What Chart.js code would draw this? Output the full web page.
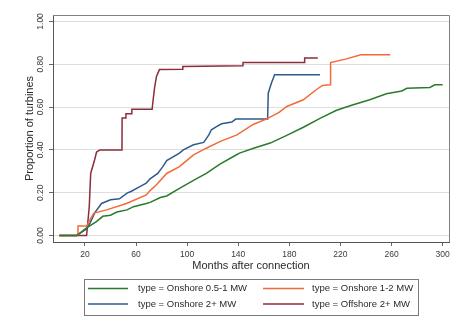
<!DOCTYPE html>
<html>
<head>
<meta charset="utf-8">
<script src="https://cdn.jsdelivr.net/npm/chart.js@4/dist/chart.umd.min.js"></script>
<style>
html,body{margin:0;padding:0;background:#fff;}
canvas{display:block;}
</style>
</head>
<body>
<canvas id="c" width="474" height="322"></canvas>
<script>
// ---- data ----
const seriesLabels = ["type = Onshore 0.5-1 MW", "type = Onshore 1-2 MW", "type = Onshore 2+ MW", "type = Offshore 2+ MW"];
const seriesColors = ["#2b7a2b", "#f4693a", "#2f5b8c", "#8c2d3c"];

const monthsOn051 = [0, 13.5, 21, 29, 34, 40, 45, 53, 58, 68, 71, 79, 84, 94, 105, 115, 126, 138, 141, 152, 165, 178, 191, 204, 217, 230, 243, 256, 268, 272, 290, 294, 300];
const propOn051   = [0, 0, 0.035, 0.065, 0.09, 0.095, 0.11, 0.12, 0.135, 0.15, 0.155, 0.178, 0.185, 0.22, 0.258, 0.29, 0.335, 0.375, 0.385, 0.408, 0.432, 0.468, 0.506, 0.547, 0.585, 0.611, 0.634, 0.662, 0.675, 0.688, 0.692, 0.704, 0.704];

const monthsOn12 = [0, 14.5, 14.6, 21.5, 24, 27, 37, 53, 68, 71, 76, 84, 94, 105, 115, 126, 139, 152, 162, 172, 178, 191, 201, 206, 212, 212.3, 224, 236, 259];
const propOn12   = [0, 0, 0.045, 0.045, 0.075, 0.105, 0.12, 0.151, 0.19, 0.21, 0.237, 0.29, 0.322, 0.377, 0.408, 0.44, 0.47, 0.52, 0.544, 0.575, 0.603, 0.634, 0.681, 0.701, 0.704, 0.808, 0.824, 0.844, 0.844];

const monthsOn2 = [0, 13.5, 21, 24, 28, 33, 40, 47, 53, 56, 63, 68, 71, 77, 81, 84, 94, 97, 105, 113, 117, 119, 123, 127, 135, 138, 163, 163.5, 166, 168.5, 204];
const propOn2   = [0, 0, 0.03, 0.058, 0.11, 0.15, 0.167, 0.172, 0.198, 0.206, 0.229, 0.245, 0.265, 0.29, 0.322, 0.35, 0.385, 0.40, 0.424, 0.435, 0.47, 0.494, 0.509, 0.522, 0.53, 0.544, 0.544, 0.665, 0.712, 0.751, 0.751];

const monthsOff2 = [0, 21.3, 23.4, 24.5, 27.6, 29.1, 31.7, 49, 49.1, 52, 52.1, 56.6, 56.7, 72.6, 73.5, 74.5, 76, 78.3, 96.5, 96.6, 143.7, 143.8, 191.9, 192, 202.3];
const propOff2   = [0, 0, 0.136, 0.29, 0.354, 0.39, 0.40, 0.40, 0.549, 0.549, 0.569, 0.569, 0.59, 0.59, 0.64, 0.69, 0.743, 0.775, 0.777, 0.79, 0.793, 0.808, 0.808, 0.829, 0.829];

const xTickValues = [20, 60, 100, 140, 180, 220, 260, 300];
const yTickValues = [0, 0.2, 0.4, 0.6, 0.8, 1.0];
const xTitle = "Months after connection";
const yTitle = "Proportion of turbines";

// ---- build datasets ----
function pts(xs, ys){ return xs.map((x,i)=>({x:x, y:ys[i]})); }
const allX = [monthsOn051, monthsOn12, monthsOn2, monthsOff2];
const allY = [propOn051, propOn12, propOn2, propOff2];
const datasets = seriesLabels.map((lab,i)=>({
  label: lab,
  data: pts(allX[i], allY[i]),
  borderColor: seriesColors[i],
  backgroundColor: seriesColors[i],
  borderWidth: 1.5,
  pointRadius: 0,
  tension: 0,
  fill: false
}));

const FONT = "'Liberation Sans', Arial, sans-serif";

// rotated y tick labels + frame + legend
const decor = {
  id: 'decor',
  beforeDraw(chart){
    const ctx = chart.ctx;
    ctx.save();
    ctx.fillStyle = '#fff';
    ctx.fillRect(0,0,chart.width,chart.height);
    ctx.restore();
  },
  afterDraw(chart){
    const ctx = chart.ctx;
    const ys = chart.scales.y;
    const ca = chart.chartArea;
    ctx.save();
    // y tick labels, rotated like the reference
    ctx.fillStyle = '#3a3a3a';
    ctx.font = "8.5px " + FONT;
    ctx.textAlign = 'center';
    ctx.textBaseline = 'middle';
    yTickValues.forEach(v=>{
      const py = ys.getPixelForValue(v);
      ctx.save();
      ctx.translate(41, py);
      ctx.rotate(-Math.PI/2);
      ctx.fillText(v.toFixed(2), 0, 0);
      ctx.restore();
    });
    // top and right frame
    ctx.strokeStyle = '#808080';
    ctx.lineWidth = 1;
    ctx.beginPath();
    ctx.moveTo(ca.left, ca.top + 0.5);
    ctx.lineTo(ca.right + 0.5, ca.top + 0.5);
    ctx.lineTo(ca.right + 0.5, ca.bottom);
    ctx.stroke();
    // legend box
    ctx.strokeStyle = '#7a7a7a';
    ctx.strokeRect(84.5, 279.5, 334, 36);
    const cols = [[88,128,138],[263,304,312]];
    const rows = [288.5, 304];
    ctx.font = "9.5px " + FONT;
    ctx.textAlign = 'left';
    ctx.textBaseline = 'middle';
    chart.data.datasets.forEach((ds,i)=>{
      const c = cols[i%2], r = rows[Math.floor(i/2)];
      ctx.strokeStyle = ds.borderColor;
      ctx.lineWidth = 1.5;
      ctx.beginPath();
      ctx.moveTo(c[0], r);
      ctx.lineTo(c[1], r);
      ctx.stroke();
      ctx.fillStyle = '#2a2a2a';
      ctx.fillText(ds.label, c[2], r);
    });
    ctx.restore();
  }
};

new Chart(document.getElementById('c'), {
  type: 'line',
  data: { datasets },
  options: {
    responsive: false,
    animation: false,
    layout: { padding: { left: 0, right: 25, top: 15, bottom: 49 } },
    plugins: { legend: { display: false }, tooltip: { enabled: false } },
    scales: {
      x: {
        type: 'linear',
        min: -5, max: 305,
        afterBuildTicks: s => { s.ticks = xTickValues.map(v=>({value:v})); },
        afterFit: s => { s.height = 31; },
        grid: { drawOnChartArea: false, drawTicks: true, tickLength: 4, tickColor: '#666' },
        border: { display: true, color: '#555', width: 1 },
        ticks: { color: '#3a3a3a', font: { family: FONT, size: 8.5 }, padding: 4, maxRotation: 0, autoSkip: false },
        title: { display: true, text: xTitle, color: '#2a2a2a', font: { family: FONT, size: 11 }, padding: { top: 0, bottom: 0 } }
      },
      y: {
        type: 'linear',
        min: -0.03, max: 1.03,
        afterBuildTicks: s => { s.ticks = yTickValues.map(v=>({value:v})); },
        afterFit: s => { s.width = 53; },
        grid: { drawOnChartArea: true, color: '#dedede', lineWidth: 1, drawTicks: true, tickLength: 4, tickColor: '#666' },
        border: { display: true, color: '#555', width: 1 },
        ticks: { display: false },
        title: { display: true, text: yTitle, color: '#2a2a2a', font: { family: FONT, size: 11 }, padding: { top: 23, bottom: 0 } }
      }
    }
  },
  plugins: [decor]
});
</script>
</body>
</html>
